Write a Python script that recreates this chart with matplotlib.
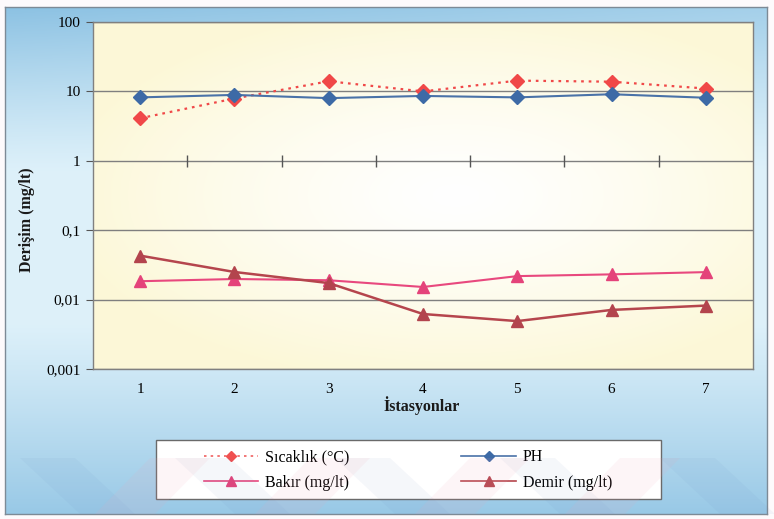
import numpy as np
import matplotlib.pyplot as plt
from matplotlib.patches import Rectangle, Polygon
from matplotlib.lines import Line2D
from matplotlib.ticker import NullLocator

# istasyon bazinda olcumler
istasyon = [1, 2, 3, 4, 5, 6, 7]
sicaklik = [4.1, 7.9, 14.0, 10.0, 14.3, 13.8, 11.0]
ph = [8.2, 8.9, 8.0, 8.6, 8.2, 9.1, 8.1]
bakir = [0.0184, 0.0198, 0.019, 0.0152, 0.0218, 0.0231, 0.0249]
demir = [0.043, 0.025, 0.0173, 0.0062, 0.0049, 0.0071, 0.0082]

y_ticks = [0.001, 0.01, 0.1, 1, 10, 100]
y_labels = ['0,001', '0,01', '0,1', '1', '10', '100']

plt.rcParams['font.family'] = ['Liberation Serif', 'DejaVu Serif']

W, H = 774, 519
fig = plt.figure(figsize=(W / 100, H / 100), dpi=100, facecolor='#fdfafc')

# mavi zemin
bg = fig.add_axes([5 / W, 5 / H, 762 / W, 507 / H])
yy, xx = np.mgrid[0:1:300j, 0:1:400j]
light = np.array([0.87, 0.945, 0.98])
blue = np.array([0.55, 0.76, 0.89])
w_top = np.clip(1 - yy / 0.33, 0, 1) ** 1.2 * (0.7 + 0.3 * (1 - xx))
w_bot = np.clip((yy - 0.62) / 0.38, 0, 1) ** 1.1 * 0.85
w = np.clip(w_top + w_bot, 0, 1)[..., None]
bg.imshow(light * (1 - w) + blue * w, extent=[0, 1, 0, 1], aspect='auto')
bg.set_xticks([])
bg.set_yticks([])
for s in bg.spines.values():
    s.set_color('#7d8a96')
    s.set_linewidth(1)

# grafik alani zemini
pa = fig.add_axes([93 / W, 1 - 369 / H, 660 / W, 347 / H])
d = np.sqrt(((xx - 0.55) / 0.6) ** 2 + ((yy - 0.5) / 0.55) ** 2)
wp = (np.clip(d, 0, 1) ** 1.3)[..., None]
cream = np.array([0.99, 0.972, 0.845])
pa.imshow(np.ones(3) * (1 - wp) + cream * wp, extent=[0, 1, 0, 1], aspect='auto')
pa.axis('off')

ax = fig.add_axes([93 / W, 1 - 369 / H, 660 / W, 347 / H])
ax.patch.set_alpha(0)
ax.set_yscale('log')
ax.set_ylim(0.001, 100)
ax.set_xlim(0.5, 7.5)
ax.set_yticks(y_ticks)
ax.set_yticklabels(y_labels)
ax.yaxis.set_minor_locator(NullLocator())
ax.set_xticks(istasyon)
ax.set_xticklabels([str(i) for i in istasyon])
ax.tick_params(axis='y', length=5, color='#555555', labelsize=11, pad=4)
ax.tick_params(axis='x', length=0, labelsize=11, pad=10)
ax.grid(axis='y', color='#7f7f7f', lw=1)
for s in ax.spines.values():
    s.set_color('#808080')
    s.set_linewidth(1)

# kategori ayirma cizgileri y=1 ekseni uzerinde
ax.plot([1.5, 2.5, 3.5, 4.5, 5.5, 6.5], [1] * 6, ls='none', marker='|',
        ms=9, mew=1, color='#555555', zorder=2.5)

ax.plot(istasyon, sicaklik, color='#f04848', ls=(0, (1.2, 2.2)), lw=1.6,
        marker='D', ms=7, mec='#f04848', mfc='#f04848', zorder=3)
ax.plot(istasyon, ph, color='#4a72a8', lw=1.5,
        marker='D', ms=7, mec='#3d6aa6', mfc='#3d6aa6', zorder=3)
ax.plot(istasyon, bakir, color='#e8487e', lw=1.5,
        marker='^', ms=8, mec='#e4437a', mfc='#e4437a', zorder=3)
ax.plot(istasyon, demir, color='#b5454d', lw=1.8,
        marker='^', ms=8, mec='#b3444d', mfc='#b3444d', zorder=3)

fig.text(27 / W, 1 - 220 / H, 'Derişim (mg/lt)', rotation=90, ha='center',
         va='center', fontsize=11.5, fontweight='bold', color='#1a1a1a')
fig.text(422 / W, 1 - 406 / H, 'İstasyonlar', ha='center', va='center',
         fontsize=11.5, fontweight='bold', color='#1a1a1a')

# lejant kutusu
fig.patches.append(Rectangle((156 / W, 1 - 499 / H), 505 / W, 59 / H,
                             transform=fig.transFigure, facecolor='white',
                             edgecolor='#6a6a6a', lw=1, zorder=1))
handles = [
    Line2D([], [], color='#f06060', ls=(0, (1.5, 2.5)), lw=1.2, marker='D',
           ms=5.5, mec='#f05050', mfc='#f05050'),
    Line2D([], [], color='#e8487e', lw=1.2, marker='^', ms=7,
           mec='#e4437a', mfc='#e4437a'),
    Line2D([], [], color='#4a72a8', lw=1.2, marker='D', ms=5.5,
           mec='#3d6aa6', mfc='#3d6aa6'),
    Line2D([], [], color='#b5454d', lw=1.2, marker='^', ms=7,
           mec='#b3444d', mfc='#b3444d'),
]
labels = ['Sıcaklık (°C)', 'Bakır (mg/lt)', 'PH', 'Demir (mg/lt)']
leg = fig.legend(handles, labels, ncol=2, loc='center',
                 bbox_to_anchor=(408 / W, 1 - 470 / H), frameon=False,
                 fontsize=11.5, handlelength=3.4, handletextpad=0.45,
                 columnspacing=7.0, labelspacing=0.6)
leg.set_zorder(5)

# alt kenardaki soluk capraz seritler
for x0 in [20, 175, 335, 500, 660]:
    fig.patches.append(Polygon(
        [(x0 / W, 1 - 458 / H), ((x0 + 55) / W, 1 - 458 / H),
         ((x0 + 115) / W, 5 / H), ((x0 + 60) / W, 5 / H)],
        closed=True, transform=fig.transFigure, facecolor='#5f7fb8',
        edgecolor='none', alpha=0.06, zorder=6))
for x0 in [150, 310, 470, 620]:
    fig.patches.append(Polygon(
        [(x0 / W, 1 - 458 / H), ((x0 + 60) / W, 1 - 458 / H),
         ((x0 + 5) / W, 5 / H), ((x0 - 55) / W, 5 / H)],
        closed=True, transform=fig.transFigure, facecolor='#f4a0b4',
        edgecolor='none', alpha=0.10, zorder=6))

fig.savefig('out.png', dpi=100, facecolor=fig.get_facecolor())
